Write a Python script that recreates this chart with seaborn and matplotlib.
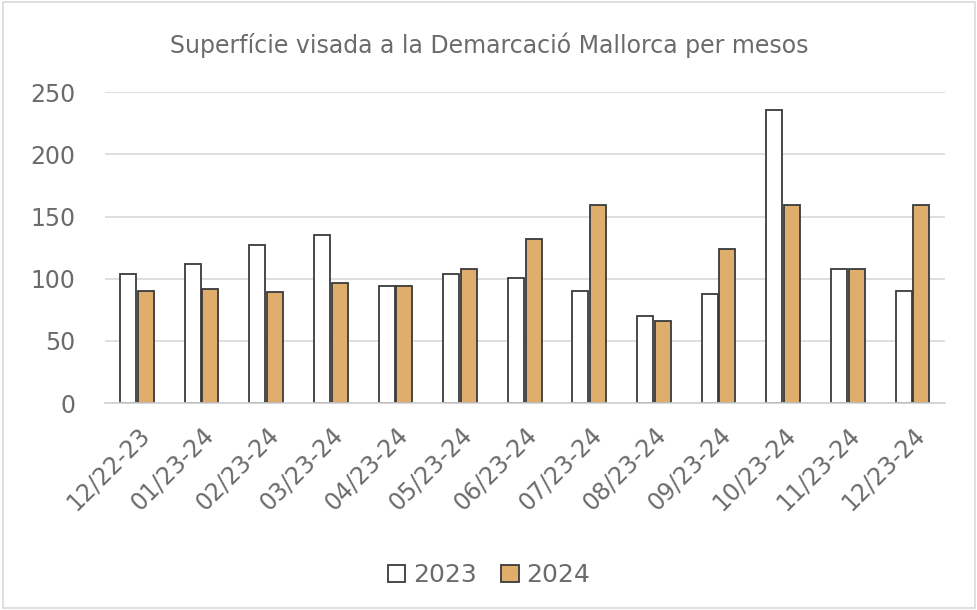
import numpy as np
import pandas as pd
import seaborn as sns
import matplotlib.pyplot as plt
from matplotlib.patches import Patch, Rectangle

months = ["12/22-23", "01/23-24", "02/23-24", "03/23-24", "04/23-24", "05/23-24", "06/23-24",
          "07/23-24", "08/23-24", "09/23-24", "10/23-24", "11/23-24", "12/23-24"]
vals_2023 = [104, 112, 127, 135, 94, 104, 101, 90, 70, 88, 236, 108, 90]
vals_2024 = [90, 92, 89, 97, 94, 108, 132, 159, 66, 124, 159, 108, 159]
years = ["2023", "2024"]
colors = ["#FFFFFF", "#DFAE6D"]

df = pd.DataFrame({
    "mes": months * 2,
    "valor": vals_2023 + vals_2024,
    "any": [years[0]] * len(months) + [years[1]] * len(months),
})

sns.set_style("white")
plt.rcParams['font.family'] = ['DejaVu Sans']
txt = "#6B6B6B"

fig = plt.figure(figsize=(9.78, 6.10), dpi=100)
ax = fig.add_axes([0.107, 0.339, 0.859, 0.51])

sns.barplot(data=df, x="mes", y="valor", hue="any", palette=colors, saturation=1,
            width=0.55, gap=0.1, edgecolor="#3A3A3A", linewidth=1.3, legend=False, ax=ax)

ax.set_ylim(0, 250)
ax.set_yticks([0, 50, 100, 150, 200, 250])
ax.yaxis.grid(True, color="#D9D9D9", linewidth=1.2)
ax.set_axisbelow(True)
for s in ["top", "right", "left"]:
    ax.spines[s].set_visible(False)
ax.spines["bottom"].set_color("#D0D0D0")
ax.spines["bottom"].set_linewidth(1.2)
ax.set_xlabel("")
ax.set_ylabel("")
ax.tick_params(axis="y", labelsize=17, colors=txt, length=0, pad=21)
ax.tick_params(axis="x", labelsize=17, colors=txt, length=0, pad=14)
plt.setp(ax.get_xticklabels(), rotation=45, ha="right", rotation_mode="anchor")

fig.text(0.5, 0.926, "Superfície visada a la Demarcació Mallorca per mesos",
         ha="center", va="center", fontsize=17, color=txt)

handles = [Patch(facecolor=c, edgecolor="#3A3A3A", linewidth=1.3) for c in colors]
fig.legend(handles, years, loc="center", bbox_to_anchor=(0.5, 0.057), ncol=2, frameon=False,
           fontsize=18, labelcolor=txt, handlelength=0.7, handleheight=0.7,
           handletextpad=0.3, columnspacing=1.0)

fig.patches.append(Rectangle((0.003, 0.003), 0.994, 0.994, transform=fig.transFigure,
                             fill=False, edgecolor="#D9D9D9", linewidth=1.2))

fig.savefig("out.png", dpi=100, facecolor="white")
